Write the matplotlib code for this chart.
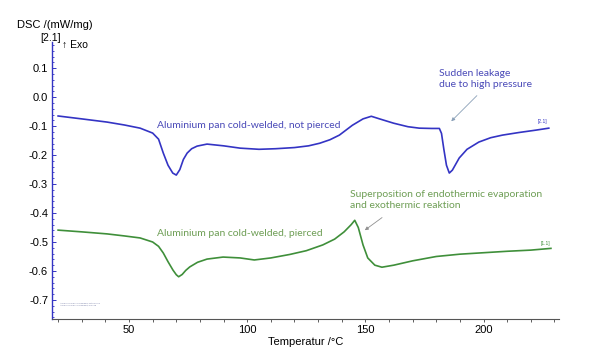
import matplotlib.pyplot as plt

# temperature / DSC values
t_blue = [20, 30, 40.7, 48, 54.7, 60, 62.5, 64.5, 66.5, 68.5, 70, 71.5, 73, 74.6,
          76.5, 78.8, 83, 90, 97, 105, 112, 120, 126, 130.7, 135, 139, 144.5, 149,
          152.5, 156, 162, 168, 172.8, 178, 181.3, 182.2, 183.2, 184.3, 185.5,
          186.8, 189.7, 193, 198, 203, 208, 215, 222, 227.6]
dsc_blue = [-0.065, -0.075, -0.086, -0.096, -0.107, -0.124, -0.145, -0.193, -0.235,
            -0.262, -0.269, -0.250, -0.215, -0.193, -0.178, -0.169, -0.162, -0.168,
            -0.176, -0.180, -0.178, -0.174, -0.168, -0.159, -0.147, -0.131, -0.097,
            -0.075, -0.066, -0.075, -0.090, -0.102, -0.107, -0.108, -0.108, -0.125,
            -0.180, -0.235, -0.262, -0.252, -0.210, -0.180, -0.155, -0.140, -0.131,
            -0.122, -0.114, -0.107]

t_green = [20, 30, 40.7, 48, 54.7, 60, 62.5, 64.5, 66.5, 68.6, 70, 71, 72.5, 74,
           75.7, 79, 83, 89.8, 97, 103, 110, 118, 125, 132, 137, 141, 144, 145.5,
           147, 149, 151, 154, 157, 162, 170, 180, 190, 200, 210, 220, 228.5]
dsc_green = [-0.459, -0.465, -0.472, -0.479, -0.486, -0.500, -0.515, -0.538, -0.568,
             -0.597, -0.613, -0.620, -0.612, -0.598, -0.586, -0.570, -0.559, -0.552,
             -0.555, -0.562, -0.555, -0.543, -0.530, -0.510, -0.490, -0.465, -0.440,
             -0.425, -0.450, -0.510, -0.555, -0.580, -0.587, -0.580, -0.565, -0.550,
             -0.542, -0.537, -0.532, -0.528, -0.522]

x_labels = [50, 100, 150, 200]
y_labels = [0.1, 0.0, -0.1, -0.2, -0.3, -0.4, -0.5, -0.6, -0.7]

blue = '#3434c4'
green = '#3f8f3a'
blue_txt = '#4a4ab8'
green_txt = '#6e9e55'

plt.rcParams['font.family'] = ['Liberation Sans', 'DejaVu Sans']

fig = plt.figure(figsize=(6, 3.51), dpi=100)
ax = fig.add_axes([0.087, 0.091, 0.845, 0.789])

ax.plot(t_blue, dsc_blue, color=blue, lw=1.2)
ax.plot(t_green, dsc_green, color=green, lw=1.2)

ax.set_xlim(17.5, 232)
ax.set_ylim(-0.766, 0.19)

ax.set_xticks(range(20, 231, 10))
ax.set_xticklabels([str(v) if v in x_labels else '' for v in range(20, 231, 10)])
ax.set_yticks(y_labels)
ax.set_yticklabels(['%.1f' % v for v in y_labels])
ax.set_yticks([i / 50 for i in range(-38, 10)], minor=True)

ax.tick_params(axis='x', direction='out', length=2.5, width=0.6, labelsize=8,
               pad=2, color='#444444')
ax.tick_params(axis='y', direction='in', length=3, width=0.7, labelsize=8,
               pad=3, color=blue)
ax.tick_params(axis='y', which='minor', direction='in', length=1.5, width=0.6, color=blue)

for s in ('top', 'right'):
    ax.spines[s].set_visible(False)
ax.spines['left'].set_color(blue)
ax.spines['left'].set_linewidth(1.0)
ax.spines['bottom'].set_color('#555555')
ax.spines['bottom'].set_linewidth(0.8)

ax.set_xlabel('Temperatur /°C', fontsize=8, labelpad=1)

fig.text(0.028, 0.928, 'DSC /(mW/mg)', fontsize=8, va='center')
fig.text(0.067, 0.892, '[2.1]', fontsize=7.5, va='center')
fig.text(0.103, 0.872, '↑ Exo', fontsize=7.5, va='center')

ann = dict(family=['Lato', 'DejaVu Sans'], fontsize=7.5)
ax.text(62, -0.097, 'Aluminium pan cold-welded, not pierced', color=blue_txt,
        va='center', **ann)
ax.text(62, -0.469, 'Aluminium pan cold-welded, pierced', color=green_txt,
        va='center', **ann)
ax.text(181, 0.062, 'Sudden leakage\ndue to high pressure', color=blue_txt,
        linespacing=1.3, va='center', **ann)
ax.text(143.5, -0.355, 'Superposition of endothermic evaporation\nand exothermic reaktion',
        color=green_txt, linespacing=1.3, va='center', **ann)

ax.annotate('', xy=(185.5, -0.090), xytext=(198, 0.012),
            arrowprops=dict(arrowstyle='-|>', color='#8aa0b8', lw=0.6,
                            mutation_scale=5))
ax.annotate('', xy=(148.8, -0.465), xytext=(158, -0.410),
            arrowprops=dict(arrowstyle='-|>', color='#909090', lw=0.6,
                            mutation_scale=5))

ax.text(223, -0.09, '[2.1]', color=blue, fontsize=3.5)
ax.text(224, -0.512, '[1.1]', color=green, fontsize=3.5)

# tiny measurement legend in the lower left corner
ax.text(21, -0.718, 'Aluminium pan cold-welded, not pierced\nAluminium pan cold-welded, pierced\n',
        color='#7a80a8', fontsize=1.6, va='center', linespacing=1.4)

fig.savefig('out.png', dpi=100)
